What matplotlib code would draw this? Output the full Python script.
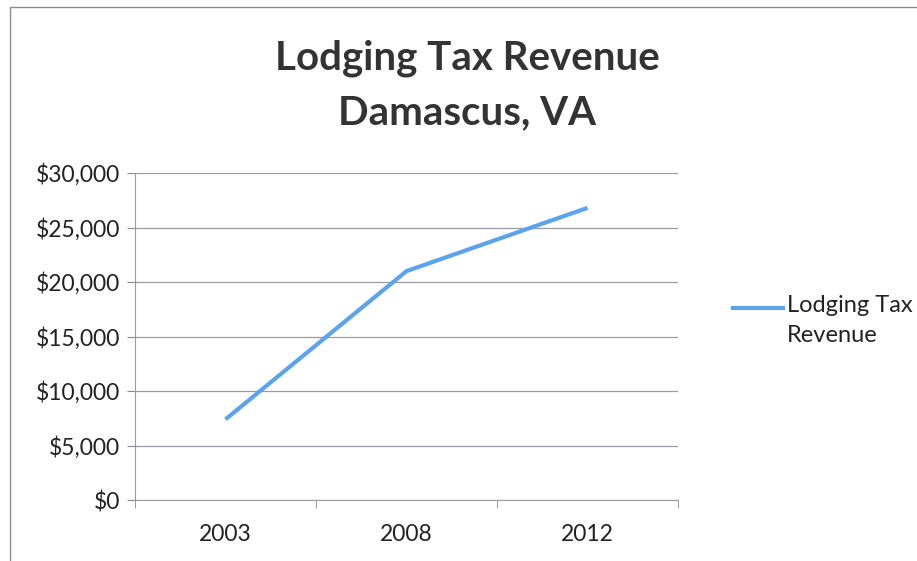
import matplotlib.pyplot as plt
from matplotlib.lines import Line2D
from matplotlib.patches import Rectangle
from matplotlib.ticker import FuncFormatter

years = ["2003", "2008", "2012"]
revenue = [7400, 21000, 26800]
y_ticks = [0, 5000, 10000, 15000, 20000, 25000, 30000]
series_name = ["Lodging Tax", "Revenue"]
title_lines = ["Lodging Tax Revenue", "Damascus, VA"]

plt.rcParams["font.family"] = ["Lato", "DejaVu Sans"]
W, H = 917, 561
LINE_COLOR = "#5ba3ea"

fig = plt.figure(figsize=(W / 100, H / 100), dpi=100)
ax = fig.add_axes([135 / W, 1 - 500 / H, 543 / W, 327 / H])

x = range(len(years))
ax.plot(x, revenue, color=LINE_COLOR, linewidth=3.0, solid_capstyle="butt")

ax.set_xlim(-0.5, len(years) - 0.5)
ax.set_ylim(0, 30000)
ax.set_yticks(y_ticks)
ax.yaxis.set_major_formatter(FuncFormatter(lambda v, _: f"${v:,.0f}"))
ax.set_xticks(list(x))
ax.set_xticklabels(years)
# category boundary ticks below the axis
ax.set_xticks([i - 0.5 for i in range(len(years) + 1)], minor=True)
ax.tick_params(axis="x", which="major", length=0, pad=17, labelsize=16.5, labelcolor="#222222")
ax.tick_params(axis="x", which="minor", length=6, color="#8a8a8a", direction="out")
ax.tick_params(axis="y", length=6, color="#8a8a8a", pad=5, labelsize=16.5, labelcolor="#222222")

ax.grid(axis="y", color="#9a9aa8", linewidth=0.9)
ax.set_axisbelow(True)
for side in ["top", "right"]:
    ax.spines[side].set_visible(False)
ax.spines["left"].set_color("#9a9aa8")
ax.spines["bottom"].set_color("#9a9aa8")

# two-line bold title
for text, ypx in zip(title_lines, [58, 113]):
    fig.text(467 / W, 1 - ypx / H, text, ha="center", va="center",
             fontsize=29, fontweight="bold", color="#333333")

# legend: swatch aligned with the first label line
fig.add_artist(Line2D([733 / W, 783 / W], [1 - 308 / H, 1 - 308 / H], color=LINE_COLOR,
                      linewidth=3.0, transform=fig.transFigure))
for text, ypx in zip(series_name, [306, 336]):
    fig.text(787 / W, 1 - ypx / H, text, ha="left", va="center", fontsize=17, color="#222222")

# outer chart border
fig.patches.append(Rectangle((10 / W, -0.1), 1.2, 1 - 7 / H + 0.1, transform=fig.transFigure,
                             fill=False, edgecolor="#8a8a8a", linewidth=1.0))

fig.savefig("out.png", dpi=100)
